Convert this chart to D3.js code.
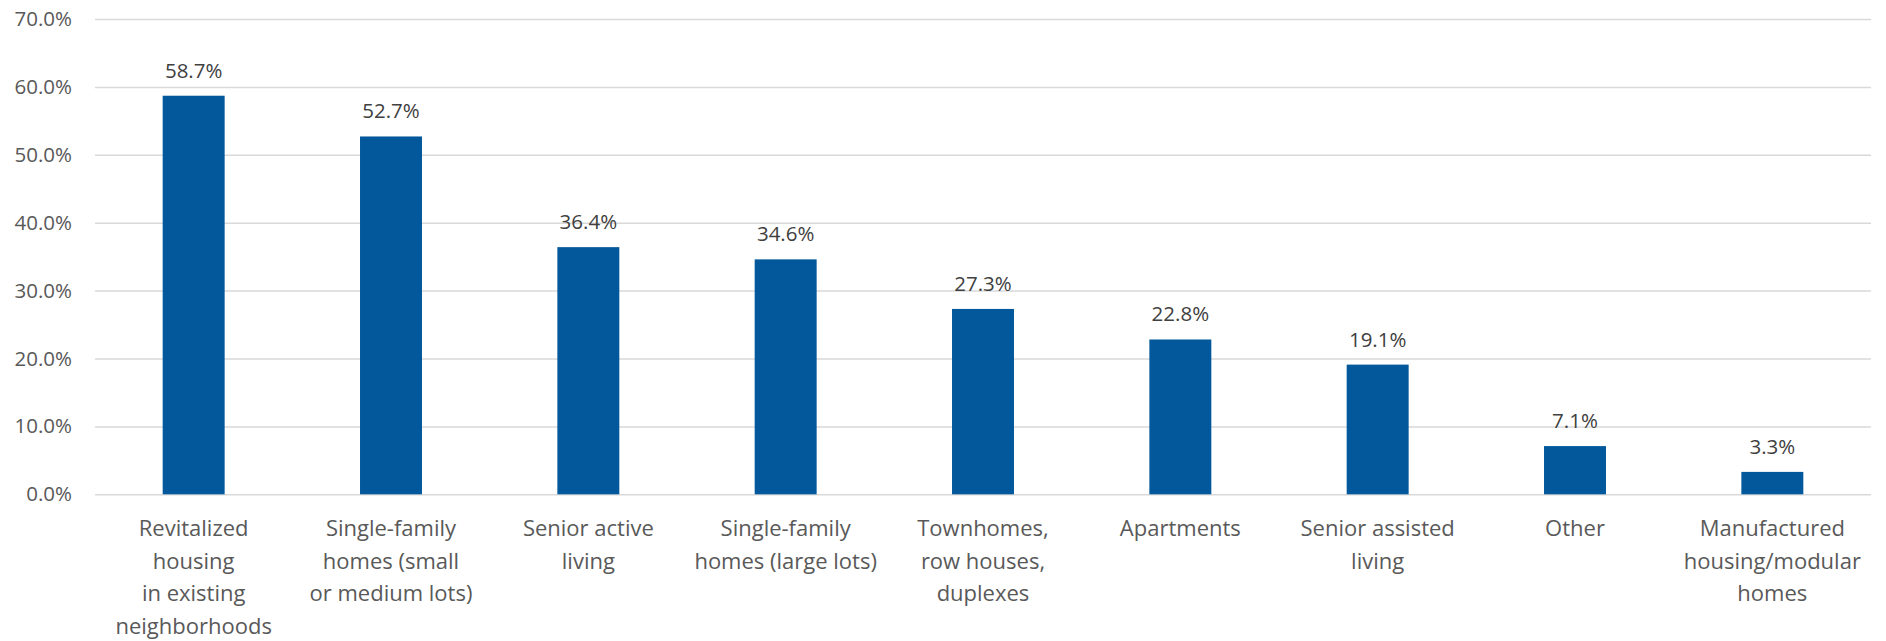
<!DOCTYPE html>
<html><head><meta charset="utf-8">
<script src="https://cdn.jsdelivr.net/npm/d3@7"></script>
<style>html,body{margin:0;padding:0;background:#fff;}</style>
</head><body>
<svg id="c" width="1886" height="641"></svg>
<script>
const categories = [
  ["Revitalized","housing","in existing","neighborhoods"],
  ["Single-family","homes (small","or medium lots)"],
  ["Senior active","living"],
  ["Single-family","homes (large lots)"],
  ["Townhomes,","row houses,","duplexes"],
  ["Apartments"],
  ["Senior assisted","living"],
  ["Other"],
  ["Manufactured","housing/modular","homes"]
];
const values = [58.7, 52.7, 36.4, 34.6, 27.3, 22.8, 19.1, 7.1, 3.3];
const yTicks = [0,10,20,30,40,50,60,70];

(function(){
const svg = d3.select("#c");
const mLeft = 95, mRight = 1871, mTop = 19, mBottom = 494.3;
const font = "'Open Sans', 'Noto Sans', sans-serif";
const x = d3.scaleBand().domain(d3.range(categories.length)).range([mLeft, mRight]).paddingInner(0.686).paddingOuter(0.343);
const y = d3.scaleLinear().domain([0,70]).range([mBottom, mTop]);

const yAxis = d3.axisLeft(y).tickValues(yTicks).tickSize(-(mRight-mLeft)).tickFormat(d => d.toFixed(1) + "%");
const gy = svg.append("g").attr("transform", `translate(${mLeft},0)`).call(yAxis);
gy.select(".domain").remove();
gy.selectAll(".tick line").attr("stroke", "#d9d9d9").attr("stroke-width", 1.5);
gy.selectAll(".tick text").attr("x", -23).attr("fill", "#595959").style("font-size", "20.5px").style("font-family", font);

svg.append("g").selectAll("rect").data(values).join("rect")
  .attr("x", (d,i) => x(i)).attr("width", x.bandwidth())
  .attr("y", d => y(d)).attr("height", d => y(0) - y(d))
  .attr("fill", "#03589b");

svg.append("g").selectAll("text").data(values).join("text")
  .attr("x", (d,i) => x(i) + x.bandwidth()/2).attr("y", d => y(d) - 18)
  .attr("text-anchor", "middle").attr("fill", "#404040")
  .style("font-size", "20.5px").style("font-family", font)
  .text(d => d.toFixed(1) + "%");

const xg = svg.append("g");
categories.forEach((lines, i) => {
  const t = xg.append("text").attr("text-anchor", "middle").attr("fill", "#595959")
    .style("font-size", "22px").style("font-family", font);
  lines.forEach((l, j) => {
    t.append("tspan").attr("x", x(i) + x.bandwidth()/2).attr("y", 536 + j*32.6).text(l);
  });
});
})();
</script>
</body></html>
